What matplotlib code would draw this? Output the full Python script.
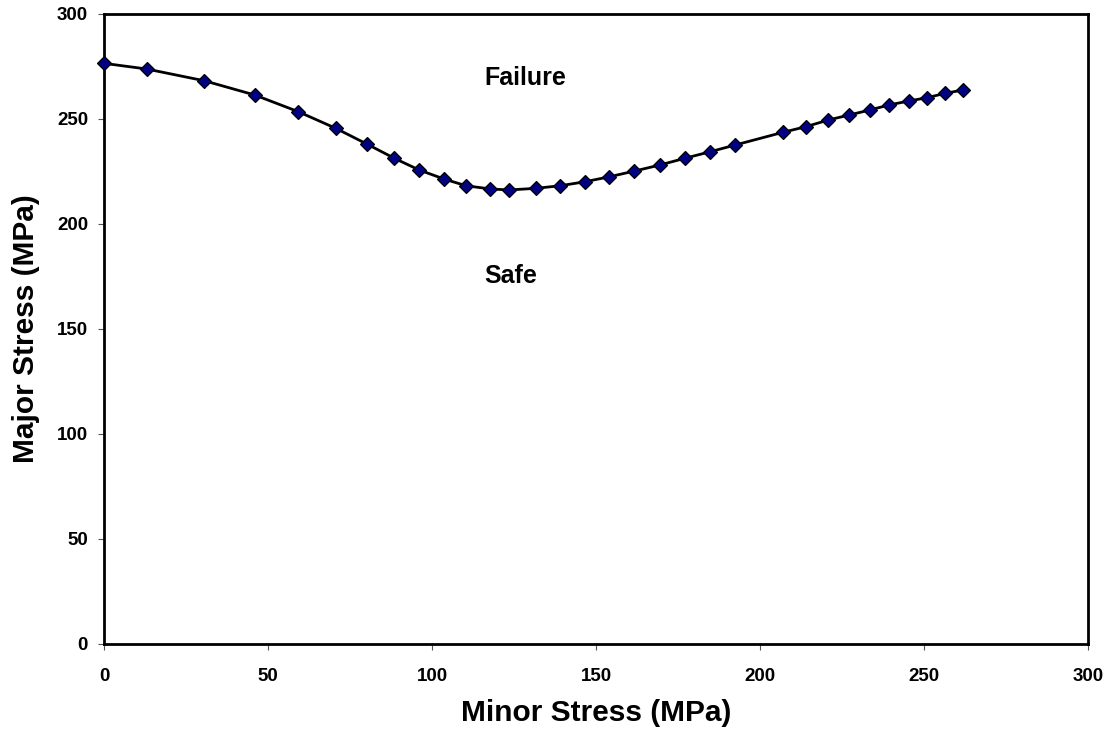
import matplotlib
matplotlib.use("Agg")
import matplotlib.pyplot as plt

# failure envelope (MPa)
minor_stress = [0.0, 13.0, 30.6, 46.0, 59.2, 70.6, 80.1, 88.5, 96.1, 103.7,
                110.4, 117.7, 123.5, 131.8, 139.0, 146.6, 154.1, 161.7, 169.5,
                177.1, 184.8, 192.4, 207.1, 213.9, 220.8, 227.2, 233.5, 239.4,
                245.5, 250.8, 256.4, 261.8]
major_stress = [276.5, 273.8, 268.2, 261.4, 253.5, 245.6, 238.1, 231.3, 225.7,
                221.4, 218.2, 216.7, 216.2, 217.0, 218.2, 220.1, 222.5, 225.2,
                228.1, 231.3, 234.4, 237.6, 243.7, 246.3, 249.5, 251.9, 254.3,
                256.7, 258.6, 260.1, 262.2, 263.8]

x_ticks = [0, 50, 100, 150, 200, 250, 300]
y_ticks = [0, 50, 100, 150, 200, 250, 300]

plt.rcParams['font.family'] = ['Liberation Sans', 'DejaVu Sans']
plt.rcParams['font.weight'] = 'bold'

fig = plt.figure(figsize=(11.15, 7.36), dpi=100)
ax = fig.add_axes([0.0933, 0.125, 0.8825, 0.856])

ax.plot(minor_stress, major_stress, color='black', lw=2,
        marker='D', ms=7.5, mfc='#000080', mec='black', mew=0.9,
        clip_on=False, zorder=3)

ax.text(116, 266.2, 'Failure', fontsize=18, fontweight='bold', va='baseline')
ax.text(116, 171.9, 'Safe', fontsize=18, fontweight='bold', va='baseline')

ax.set_xlim(0, 300)
ax.set_ylim(0, 300)
ax.set_xticks(x_ticks)
ax.set_yticks(y_ticks)
ax.tick_params(axis='both', direction='out', length=4.5, width=0.8,
               color='#555555', labelsize=13.5)
ax.tick_params(axis='x', pad=13)
ax.tick_params(axis='y', pad=7)
for lab in ax.get_xticklabels() + ax.get_yticklabels():
    lab.set_fontweight('bold')

for side in ['left', 'bottom', 'top', 'right']:
    ax.spines[side].set_linewidth(2)
    ax.spines[side].set_color('black')

ax.set_xlabel('Minor Stress (MPa)', fontsize=21.5, fontweight='bold', labelpad=10)
ax.set_ylabel('Major Stress (MPa)', fontsize=21.5, fontweight='bold', labelpad=12)

fig.savefig('out.png', dpi=100)
